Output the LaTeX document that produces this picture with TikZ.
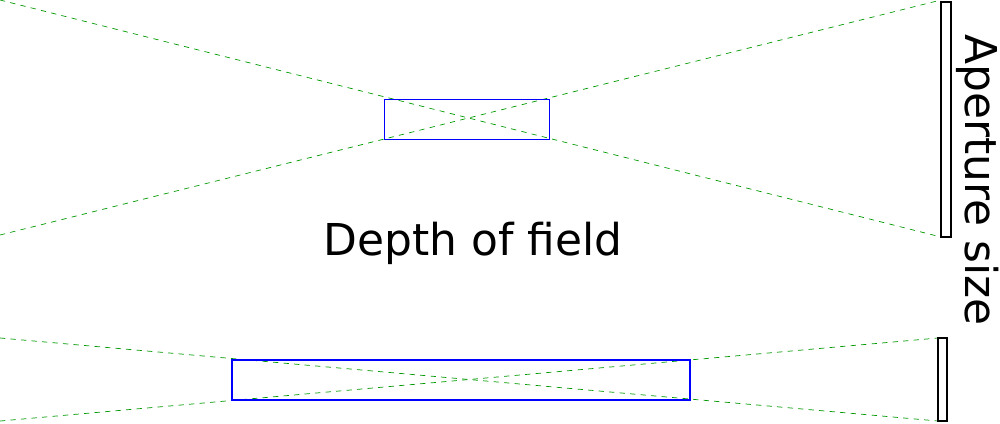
\documentclass[tikz,border=0pt]{standalone}
\usepackage{fontspec}
\setmainfont{DejaVu Sans}
\begin{document}
\begin{tikzpicture}[x=0.02cm,y=-0.02cm,
    ray/.style={green!60!black,dashed,thin},
    focusbox/.style={draw=blue},
    aperture/.style={draw=black,thick}]
    \useasboundingbox (0,0) rectangle (1000,423);
    % top: large aperture
    \coordinate (ta1) at (941,0);
    \coordinate (ta2) at (941,237);
    \draw[ray] (0,235) -- (ta1);
    \draw[ray] (0,0) -- (ta2);
    \draw[focusbox] (384,99) rectangle (549,139);
    \draw[aperture] (941,2) rectangle (951,237);
    % bottom: small aperture
    \coordinate (ba1) at (938,338);
    \coordinate (ba2) at (938,421);
    \draw[ray] (0,421) -- (ba1);
    \draw[ray] (0,338) -- (ba2);
    \draw[focusbox,thick] (232,360) rectangle (690,400);
    \draw[aperture] (938,338) rectangle (947,421);
    % labels
    \node (dof) at (473,243) {\fontsize{25}{30}\selectfont Depth of field};
    \node[rotate=-90] (aps) at (978,180) {\fontsize{25}{30}\selectfont Aperture size};
\end{tikzpicture}
\end{document}
